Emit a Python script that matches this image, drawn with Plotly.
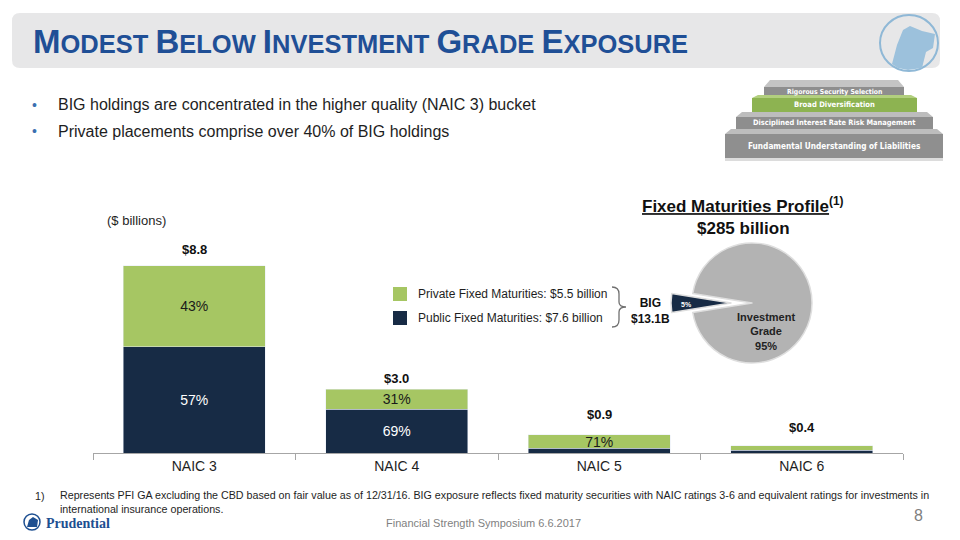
import plotly.graph_objects as go

# bar chart data ($ billions)
categories = ["NAIC 3", "NAIC 4", "NAIC 5", "NAIC 6"]
public_vals = [5.0, 2.05, 0.22, 0.13]
private_vals = [3.8, 0.95, 0.64, 0.2]
public_pct = ["57%", "69%", None, None]
private_pct = ["43%", "31%", "71%", None]
total_labels = ["$8.8", "$3.0", "$0.9", "$0.4"]

# pie data
pie_labels = ["BIG", "Investment Grade"]
pie_values = [5, 95]

legend_names = ["Private Fixed Maturities: $5.5 billion", "Public Fixed Maturities: $7.6 billion"]
pyramid_steps = ["Rigorous Security Selection", "Broad Diversification",
                 "Disciplined Interest Rate Risk Management", "Fundamental Understanding of Liabilities"]
bullets = ["BIG holdings are concentrated in the higher quality (NAIC 3) bucket",
           "Private placements comprise over 40% of BIG holdings"]

W, H = 960, 540
GREEN = "#a6c663"
NAVY = "#172b45"
FONT = "Arial, Liberation Sans, sans-serif"
NARROW = "Liberation Sans Narrow, Arial Narrow, DejaVu Sans Condensed, sans-serif"


def px(x):
    return x / W


def py(y):
    return 1 - y / H


def path(pts, close=True):
    s = "M " + " L ".join(f"{px(x):.5f},{py(y):.5f}" for x, y in pts)
    return s + (" Z" if close else "")


def note(x, y, text, size, color="#1e1e1e", family=FONT, xanchor="center", **kw):
    # text placed in slide pixels
    return dict(x=px(x), y=py(y), xref="paper", yref="paper", xanchor=xanchor, yanchor="middle",
                text=text, showarrow=False, font=dict(size=size, color=color, family=family), **kw)


fig = go.Figure()

fig.add_trace(go.Bar(x=categories, y=public_vals, name=legend_names[1], marker_color=NAVY,
                     text=public_pct, textposition="inside", insidetextanchor="middle", constraintext="none",
                     textfont=dict(color="white", size=14, family=FONT), hoverinfo="skip"))
fig.add_trace(go.Bar(x=categories, y=private_vals, name=legend_names[0], marker_color=GREEN,
                     text=private_pct, textposition="inside", insidetextanchor="middle", constraintext="none",
                     textfont=dict(color="#1a1a1a", size=14, family=FONT), hoverinfo="skip"))

ph = 81
fig.add_trace(go.Pie(labels=pie_labels, values=pie_values, sort=False, direction="clockwise",
                     rotation=261, pull=[0.35, 0], textinfo="none", hoverinfo="skip",
                     marker=dict(colors=[NAVY, "#b3b3b3"], line=dict(color="#dedede", width=1.5)),
                     domain=dict(x=[px(752 - ph), px(752 + ph)], y=[py(303 + ph), py(303 - ph)]),
                     showlegend=False))

shapes = []
annotations = []

# title bar
r = 8
x0, x1, y0, y1 = 12, 940, 13, 68
shapes.append(dict(type="path", xref="paper", yref="paper", line=dict(width=0), fillcolor="#e7e7e8",
                   path=f"M {px(x0+r)},{py(y0)} L {px(x1-r)},{py(y0)} Q {px(x1)},{py(y0)} {px(x1)},{py(y0+r)} "
                        f"L {px(x1)},{py(y1-r)} Q {px(x1)},{py(y1)} {px(x1-r)},{py(y1)} "
                        f"L {px(x0+r)},{py(y1)} Q {px(x0)},{py(y1)} {px(x0)},{py(y1-r)} "
                        f"L {px(x0)},{py(y0+r)} Q {px(x0)},{py(y0)} {px(x0+r)},{py(y0)} Z"))
# logo in title bar (rock in a circle)
shapes.append(dict(type="circle", xref="paper", yref="paper", x0=px(880), x1=px(938), y0=py(71), y1=py(15),
                   line=dict(color="#8fb8d6", width=2)))
shapes.append(dict(type="path", xref="paper", yref="paper", line=dict(width=0), fillcolor="#9cc1dc",
                   path=path([(892, 64), (897, 45), (903, 30), (910, 26), (922, 31), (935, 34),
                              (933, 48), (926, 52), (922, 68), (908, 70), (898, 68)])))

big = 33
small = 25.5
words = ["Modest", "Below", "Investment", "Grade", "Exposure"]
title = " ".join(f"<span style='font-size:{big}px'>{w[0]}</span>{w[1:].upper()}" for w in words)
annotations.append(note(31, 42, f"<b>{title}</b>", small, "#1f4f96", xanchor="left"))

# bullets
for i, b in enumerate(bullets):
    yy = 105 + i * 26
    annotations.append(note(34, yy, "•", 14, "#3b6fb0"))
    annotations.append(note(56, yy, b, 16, "#1e1e1e", xanchor="left"))

# pyramid
tiers = [(764, 904, 80, 87, 96, "#8e8e8e", "#c4c4c4", 6.8),
         (752, 917, 95, 98, 112, "#8db351", "#b2cf7e", 7.6),
         (736, 933, 112, 117, 129, "#8e8e8e", "#bdbdbd", 7.4),
         (725, 943, 129, 134, 158, "#8f8f8f", "#bdbdbd", 8.2)]
shapes.append(dict(type="rect", xref="paper", yref="paper", x0=px(725), x1=px(943), y0=py(161), y1=py(158),
                   line=dict(width=0), fillcolor="#dcdcdc"))
for (a, b, yt, ym, yb, body, bevel, fs), label in zip(tiers, pyramid_steps):
    shapes.append(dict(type="path", xref="paper", yref="paper", line=dict(width=0), fillcolor=bevel,
                       path=path([(a, ym), (a + 6, yt), (b - 6, yt), (b, ym)])))
    shapes.append(dict(type="rect", xref="paper", yref="paper", x0=px(a), x1=px(b), y0=py(yb), y1=py(ym),
                       line=dict(width=0), fillcolor=body))
    annotations.append(note((a + b) / 2, (ym + yb) / 2, f"<b>{label}</b>", fs, "white", NARROW))

# units
annotations.append(note(105, 220, "($ billions)", 13, xanchor="left"))

# totals above bars
tshift = [7, 1, 11, 9]
for c, pv, vv, lab, sh in zip(categories, public_vals, private_vals, total_labels, tshift):
    annotations.append(dict(x=c, y=pv + vv, xref="x", yref="y", xanchor="center", yanchor="bottom", yshift=sh,
                            text=f"<b>{lab}</b>", showarrow=False,
                            font=dict(size=13, color="#111111", family=FONT)))

# custom legend
for i, (name, col) in enumerate(zip(legend_names, [GREEN, NAVY])):
    yy = 294 + i * 24
    shapes.append(dict(type="rect", xref="paper", yref="paper", x0=px(393), x1=px(407),
                       y0=py(yy + 7), y1=py(yy - 7), line=dict(width=0), fillcolor=col))
    annotations.append(note(416, yy, name, 12, xanchor="left"))

# brace
shapes.append(dict(type="path", xref="paper", yref="paper", line=dict(color="#707070", width=1.3),
                   path=f"M {px(612)},{py(287)} Q {px(619)},{py(287)} {px(619)},{py(294)} "
                        f"L {px(619)},{py(302)} Q {px(619)},{py(307)} {px(626)},{py(307)} "
                        f"Q {px(619)},{py(307)} {px(619)},{py(312)} L {px(619)},{py(320)} "
                        f"Q {px(619)},{py(327)} {px(612)},{py(327)}"))
annotations.append(note(650, 311, "<b>BIG<br>$13.1B</b>", 12, "#111111"))

# pie titles and labels
annotations.append(note(743, 205, "<b><u>Fixed Maturities Profile</u><sup>(1)</sup></b>", 17, "#111111"))
annotations.append(note(743, 228, "<b>$285 billion</b>", 17, "#111111"))
annotations.append(note(766, 331, "<b>" + pie_labels[1].replace(" ", "<br>") + f"<br>{pie_values[1]}%</b>",
                        11, "#222222"))
annotations.append(note(686, 304, f"<b>{pie_values[0]}%</b>", 7, "white"))

# footnote
annotations.append(note(33, 496, "1)", 10.7, xanchor="left"))
annotations.append(note(58, 502, "Represents PFI GA excluding the CBD based on fair value as of 12/31/16. "
                                 "BIG exposure reflects fixed maturity securities with NAIC ratings 3-6 and "
                                 "equivalent ratings for investments in<br>international insurance operations.",
                        10.7, xanchor="left", align="left"))

# footer
shapes.append(dict(type="circle", xref="paper", yref="paper", x0=px(24), x1=px(40), y0=py(530), y1=py(514),
                   line=dict(color="#1d4f91", width=1.5), fillcolor="#ffffff"))
shapes.append(dict(type="path", xref="paper", yref="paper", line=dict(width=0), fillcolor="#1d4f91",
                   path=path([(27, 527), (29, 520), (33, 517), (38, 520), (37, 527)])))
annotations.append(note(44, 523, "<b>Prudential</b>", 14, "#1d4f91", "Liberation Serif, serif", xanchor="left"))
annotations.append(note(483, 523, "Financial Strength Symposium 6.6.2017", 11, "#7f7f7f"))
annotations.append(note(918, 515, "8", 16, "#7f7f7f"))

fig.update_layout(
    width=W, height=H, margin=dict(l=0, r=0, t=0, b=0),
    paper_bgcolor="white", plot_bgcolor="white",
    barmode="stack", bargap=0.30, showlegend=False,
    font=dict(family=FONT),
    xaxis=dict(domain=[px(93), px(903)], showline=True, linecolor="#a6a6a6", linewidth=1,
               ticks="outside", tickson="boundaries", ticklen=6, tickcolor="#a6a6a6",
               tickfont=dict(size=14, color="#1e1e1e", family=FONT), showgrid=False),
    yaxis=dict(domain=[py(453), py(240)], range=[0, 213 / 21.28], visible=False, showgrid=False),
    shapes=shapes, annotations=annotations,
)

fig.write_html("out.html", config={"displayModeBar": False},
               post_script="document.body.style.margin='0px';")
